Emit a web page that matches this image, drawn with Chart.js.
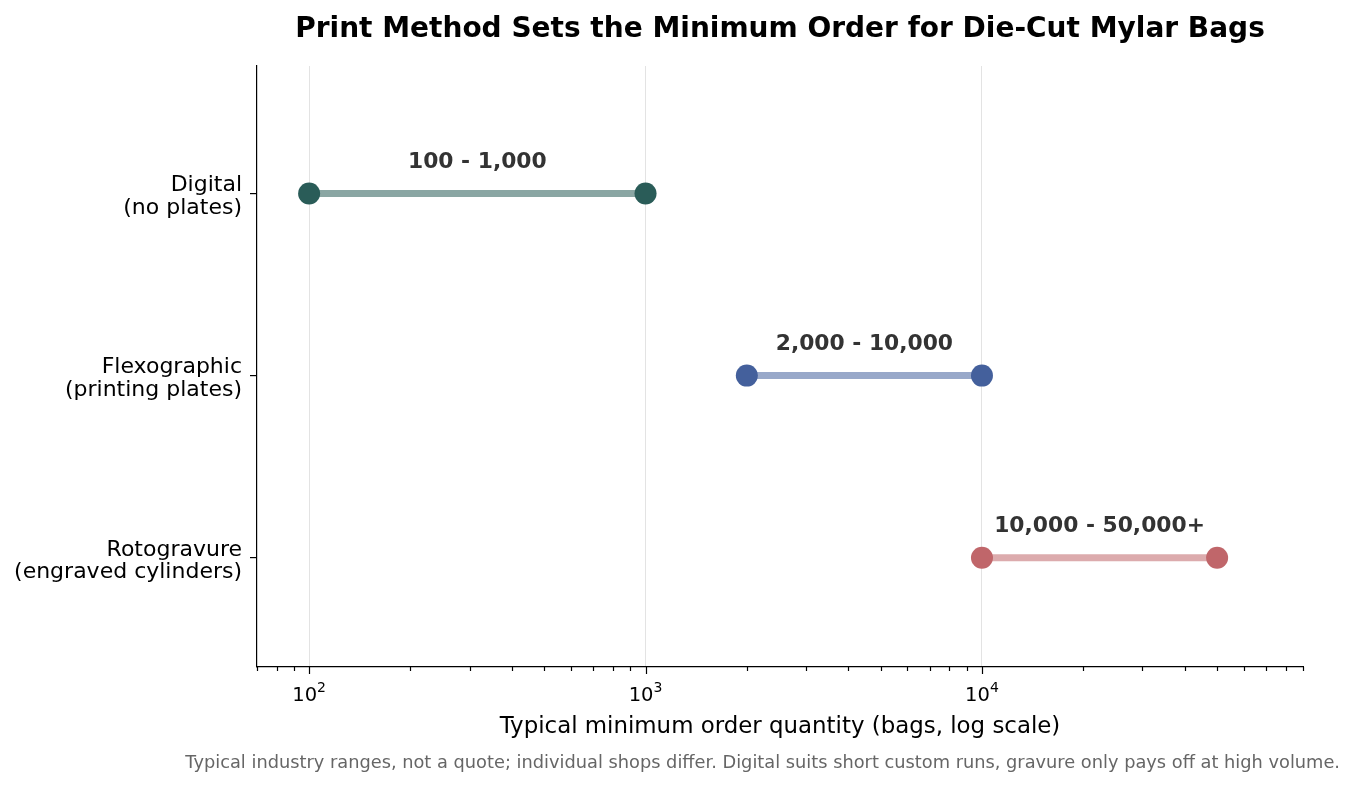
<!DOCTYPE html>
<html>
<head>
<meta charset="utf-8">
<script src="https://cdn.jsdelivr.net/npm/chart.js@4"></script>
<style>
  html, body { margin: 0; padding: 0; background: #fff; }
  #wrap { width: 1355px; height: 787px; }
</style>
</head>
<body>
<div id="wrap"><canvas id="chart"></canvas></div>
<script>
const methods = [["Digital", "(no plates)"], ["Flexographic", "(printing plates)"], ["Rotogravure", "(engraved cylinders)"]];
const minQty = [100, 2000, 10000];
const maxQty = [1000, 10000, 50000];
const rangeLabels = ["100 - 1,000", "2,000 - 10,000", "10,000 - 50,000+"];
const dotColors = ["#2a5c58", "#44609c", "#c0666a"];
const lineColors = ["rgba(42,92,88,0.55)", "rgba(68,96,156,0.55)", "rgba(192,102,106,0.55)"];
const majorTicks = [100, 1000, 10000];
const majorExponents = ["2", "3", "4"];

const TITLE = "Print Method Sets the Minimum Order for Die-Cut Mylar Bags";
const NOTE = "Typical industry ranges, not a quote; individual shops differ. Digital suits short custom runs, gravure only pays off at high volume.";
const FONT = "'DejaVu Sans', sans-serif";

// title over the plot area and the footnote at the bottom right
const textPlugin = {
  id: "pageText",
  afterDraw(chart) {
    const { ctx, chartArea } = chart;
    ctx.save();
    ctx.fillStyle = "#000";
    ctx.font = "bold 28px " + FONT;
    ctx.textAlign = "center";
    ctx.textBaseline = "middle";
    ctx.fillText(TITLE, (chartArea.left + chartArea.right) / 2, 29.5);
    ctx.fillStyle = "#666666";
    ctx.font = "17.8px " + FONT;
    ctx.textAlign = "right";
    ctx.fillText(NOTE, 1340, 763);
    ctx.restore();
  },
};

// range label above each dumbbell, centred on the geometric mean
const rangeLabelPlugin = {
  id: "rangeLabels",
  afterDatasetsDraw(chart) {
    const { ctx, scales } = chart;
    ctx.save();
    ctx.font = "bold 21.8px " + FONT;
    ctx.fillStyle = "#333333";
    ctx.textAlign = "center";
    ctx.textBaseline = "middle";
    rangeLabels.forEach((text, i) => {
      const x = scales.x.getPixelForValue(Math.sqrt(minQty[i] * maxQty[i]));
      const y = scales.y.getPixelForValue(i) - 31;
      ctx.fillText(text, x, y);
    });
    ctx.restore();
  },
};

// log axis: long ticks + 10^n labels at decades, short ticks at minors
const logTickPlugin = {
  id: "logTicks",
  afterDraw(chart) {
    const { ctx, scales } = chart;
    const sx = scales.x;
    ctx.save();
    ctx.strokeStyle = "#000";
    ctx.lineWidth = 1.2;
    sx.ticks.forEach((t) => {
      const x = Math.round(sx.getPixelForValue(t.value)) + 0.5;
      const len = majorTicks.includes(t.value) ? 7 : 4;
      ctx.beginPath();
      ctx.moveTo(x, sx.top);
      ctx.lineTo(x, sx.top + len);
      ctx.stroke();
    });
    ctx.fillStyle = "#000";
    ctx.textBaseline = "alphabetic";
    ctx.textAlign = "left";
    majorTicks.forEach((v, i) => {
      const x = sx.getPixelForValue(v);
      ctx.font = "19.5px " + FONT;
      const wBase = ctx.measureText("10").width;
      ctx.font = "14px " + FONT;
      const wExp = ctx.measureText(majorExponents[i]).width;
      const start = x - (wBase + wExp) / 2;
      ctx.font = "19.5px " + FONT;
      ctx.fillText("10", start, sx.top + 34);
      ctx.font = "14px " + FONT;
      ctx.fillText(majorExponents[i], start + wBase, sx.top + 25);
    });
    ctx.restore();
  },
};

const datasets = methods.map((m, i) => ({
  label: m.join(" "),
  data: [{ x: minQty[i], y: i }, { x: maxQty[i], y: i }],
  borderColor: lineColors[i],
  borderWidth: 7,
  pointRadius: 11,
  pointHoverRadius: 11,
  pointBackgroundColor: dotColors[i],
  pointBorderColor: dotColors[i],
  pointBorderWidth: 0,
  showLine: true,
}));

new Chart(document.getElementById("chart"), {
  type: "scatter",
  data: { datasets: datasets },
  plugins: [rangeLabelPlugin, logTickPlugin, textPlugin],
  options: {
    responsive: true,
    maintainAspectRatio: false,
    animation: false,
    devicePixelRatio: 1,
    layout: { padding: { left: 0, right: 52, top: 66, bottom: 35 } },
    plugins: {
      legend: { display: false },
      tooltip: { enabled: false },
    },
    scales: {
      x: {
        type: "logarithmic",
        min: 70,
        max: 90000,
        afterBuildTicks(axis) {
          const ticks = [];
          for (let e = 1; e <= 4; e += 1) {
            for (let m = 1; m <= 9; m += 1) {
              const v = m * Math.pow(10, e);
              if (v >= 70 && v <= 90000) ticks.push({ value: v });
            }
          }
          axis.ticks = ticks;
        },
        afterFit(axis) { axis.height = 85; },
        border: { display: true, color: "#000", width: 1.2 },
        grid: {
          drawTicks: false,
          color: (c) => (c.tick && majorTicks.includes(c.tick.value) ? "#e3e3e3" : "rgba(0,0,0,0)"),
          lineWidth: 1,
        },
        ticks: {
          autoSkip: false,
          maxRotation: 0,
          callback() { return ""; },
        },
        title: {
          display: true,
          text: "Typical minimum order quantity (bags, log scale)",
          color: "#000",
          font: { family: FONT, size: 22.9 },
          padding: { top: 4, bottom: 11 },
        },
      },
      y: {
        type: "linear",
        reverse: true,
        min: -0.7,
        max: 2.6,
        afterBuildTicks(axis) {
          axis.ticks = methods.map((m, i) => ({ value: i }));
        },
        afterFit(axis) { axis.width = 257; },
        border: { display: true, color: "#000", width: 1.2 },
        grid: { drawOnChartArea: false, drawTicks: true, tickLength: 7, color: "#000", lineWidth: 1.2 },
        ticks: {
          padding: 8,
          labelOffset: 3.5,
          color: "#000",
          font: { family: FONT, size: 22, lineHeight: 1.04 },
          callback(value) {
            return methods[value] || "";
          },
        },
      },
    },
  },
});
</script>
</body>
</html>
